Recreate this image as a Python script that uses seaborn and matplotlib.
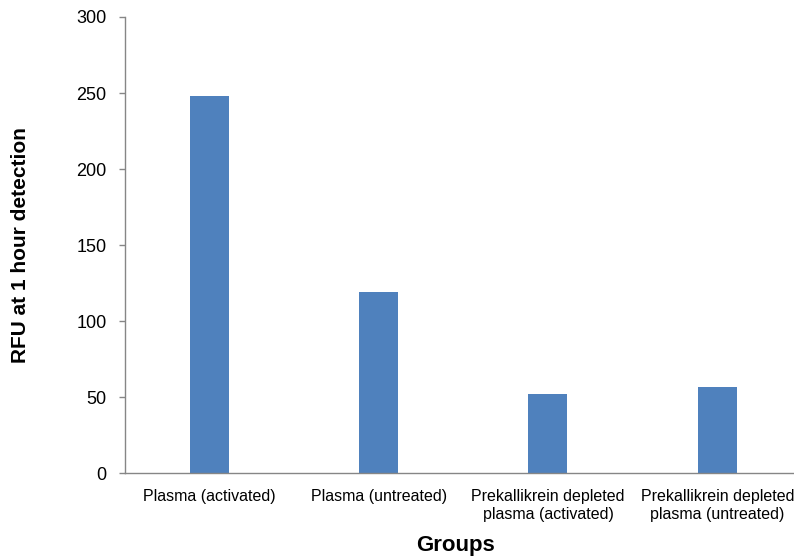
import matplotlib
matplotlib.use('Agg')
import matplotlib.pyplot as plt
import seaborn as sns
import pandas as pd

groups = ['Plasma (activated)', 'Plasma (untreated)',
          'Prekallikrein depleted\nplasma (activated)',
          'Prekallikrein depleted\nplasma (untreated)']
rfu = [248, 119, 52, 57]

df = pd.DataFrame({'group': groups, 'rfu': rfu})

sns.set_style('white')
plt.rcParams['font.family'] = ['Liberation Sans', 'DejaVu Sans']
plt.rcParams['text.color'] = 'black'
plt.rcParams['axes.labelcolor'] = 'black'
plt.rcParams['xtick.color'] = 'black'
plt.rcParams['ytick.color'] = 'black'

fig = plt.figure(figsize=(7.94, 5.57), dpi=100)
ax = fig.add_axes([0.157, 0.150, 0.843, 0.8195])
sns.barplot(data=df, x='group', y='rfu', color='#4F81BD', width=0.23,
            saturation=1, linewidth=0, ax=ax)

ax.set_ylim(0, 300)
ax.set_yticks([0, 50, 100, 150, 200, 250, 300])
ax.set_xlim(-0.5, 3.453)
for s in ['top', 'right']:
    ax.spines[s].set_visible(False)
for s in ['left', 'bottom']:
    ax.spines[s].set_color('#868686')
    ax.spines[s].set_linewidth(1)
ax.tick_params(axis='y', left=True, length=4, width=1, color='#868686',
               labelcolor='black', pad=9, labelsize=13)
ax.tick_params(axis='x', bottom=False, pad=8, labelsize=11.5,
               labelcolor='black')

ax.set_xlabel('Groups', fontsize=16, fontweight='bold')
ax.set_ylabel('RFU at 1 hour detection', fontsize=15, fontweight='bold')
ax.xaxis.set_label_coords(0.5 - 0.0, -0.135)
ax.yaxis.set_label_coords(-0.142, 0.5)
# center Groups label under the plotting area as in the reference
ax.xaxis.label.set_x((456 - 125) / 669)

plt.savefig('out.png', dpi=100)
